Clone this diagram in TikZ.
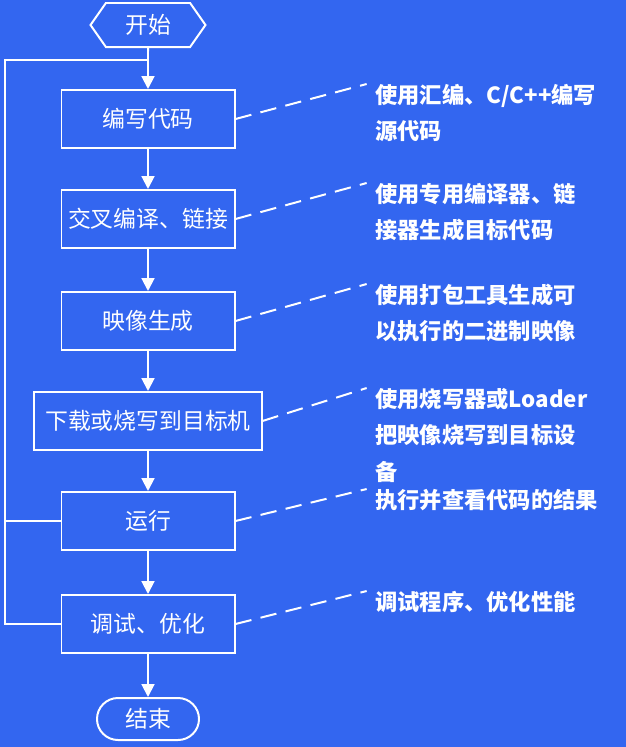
\documentclass[tikz,border=0pt]{standalone}
\usepackage{fontspec}
\setmainfont{Liberation Serif}
\newfontfamily\cjk{Noto Sans CJK SC}
\usetikzlibrary{positioning,arrows.meta,shapes.geometric,shapes.symbols}
\definecolor{bgblue}{RGB}{51,102,240}
\tikzset{
stepnode/.style={rectangle, draw=white, line width=1.7pt, minimum width=5.19cm, minimum height=1.74cm, text=white, font=\cjk\fontsize{19.5}{22}\selectfont},
endnode/.style={rectangle, rounded corners=0.63cm, draw=white, line width=1.7pt, minimum width=3.06cm, minimum height=1.26cm, text=white, font=\cjk\fontsize{19.5}{22}\selectfont},
notenode/.style={anchor=north west, text=white, text width=7.2cm, align=left, font=\cjk\bfseries\fontsize{19}{31}\selectfont, inner sep=0pt},
flow/.style={draw=white, line width=1.7pt, -{Triangle[width=11pt,length=11pt]}},
plain/.style={draw=white, line width=1.7pt},
note/.style={draw=white, line width=1.7pt, dash pattern=on 14pt off 8pt},
>={Triangle[width=11pt,length=11pt]}
}
\begin{document}
\begin{tikzpicture}[x=0.03cm, y=-0.03cm]
\fill[bgblue] (0,0) rectangle (626,747);
\useasboundingbox (0,0) rectangle (626,747);

%flow nodes
\node[draw=white, line width=1.7pt, signal, signal to=west and east, signal pointer angle=110, minimum width=3.45cm, minimum height=1.32cm, text=white, font=\cjk\fontsize{19.5}{22}\selectfont] (start) at (148,25) {开始};
\node[stepnode] (code) at (148,119) {编写代码};
\node[stepnode] (build) at (148,219) {交叉编译、链接};
\node[stepnode] (image) at (148,321) {映像生成};
\node[stepnode, minimum width=6.81cm] (load) at (148,421) {下载或烧写到目标机};
\node[stepnode] (run) at (148,521) {运行};
\node[stepnode] (debug) at (148,624) {调试、优化};
\node[endnode] (stop) at (148,719) {结束};

%notes
\node[notenode] (n1) at (375,84) {使用汇编、C/C++编写\\源代码};
\node[notenode] (n2) at (375,183) {使用专用编译器、链\\接器生成目标代码};
\node[notenode] (n3) at (375,284) {使用打包工具生成可\\以执行的二进制映像};
\node[notenode] (n4) at (375,388) {使用烧写器或Loader\\把映像烧写到目标设\\备};
\node[notenode] (n5) at (375,489) {执行并查看代码的结果};
\node[notenode] (n6) at (375,591) {调试程序、优化性能};

\coordinate (loop) at (148,60);
\draw[flow] (start) -- (code);
\draw[flow] (code) -- (build);
\draw[flow] (build) -- (image);
\draw[flow] (image) -- (load);
\draw[flow] (load) -- (run);
\draw[flow] (run) -- (debug);
\draw[flow] (debug) -- (stop);
\draw[plain] (debug.west) -- (5,624) -- (5,60) -- (loop);
\draw[plain] (run.west) -- (5,521);

\draw[note] (code.east) -- ([xshift=-0.25cm]n1.north west);
\draw[note] (build.east) -- ([xshift=-0.25cm]n2.north west);
\draw[note] (image.east) -- ([xshift=-0.25cm]n3.north west);
\draw[note] (load.east) -- ([xshift=-0.25cm]n4.north west);
\draw[note] (run.east) -- ([xshift=-0.25cm]n5.north west);
\draw[note] (debug.east) -- ([xshift=-0.25cm]n6.north west);
\end{tikzpicture}
\end{document}
